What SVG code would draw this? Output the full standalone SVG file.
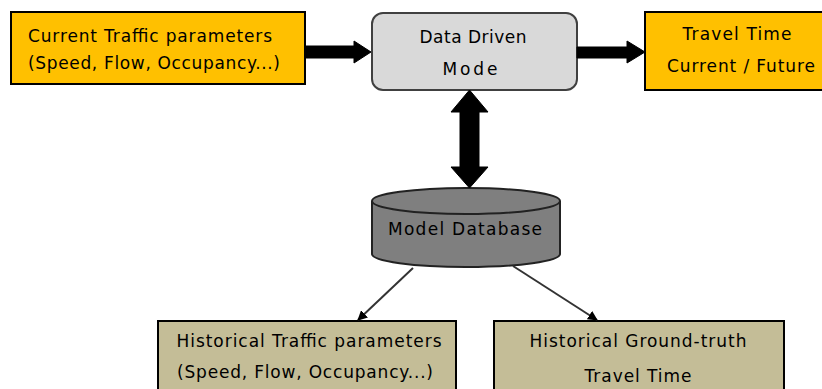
<svg xmlns="http://www.w3.org/2000/svg" width="822" height="389" viewBox="0 0 822 389">
<defs>
<style>
text{font-family:"DejaVu Sans","Liberation Sans",sans-serif;font-size:17px;fill:#000;text-anchor:middle}
.orange{fill:#FFC000;stroke:#000;stroke-width:2}
.tan{fill:#C4BD97;stroke:#000;stroke-width:2}
.thick{fill:#000;stroke:#000;stroke-width:1}
.thin{stroke:#333;stroke-width:2;fill:none;marker-end:url(#ah)}
</style>
<marker id="ah" viewBox="0 0 10 10" refX="9" refY="5" markerWidth="5" markerHeight="5" orient="auto" markerUnits="strokeWidth">
<path d="M0,0 L10,5 L0,10 z" fill="#000"/>
</marker>
</defs>
<rect width="822" height="389" fill="#fff"/>
<g id="current">
<rect class="orange" x="11" y="12" width="294" height="72"/>
<text x="150" y="42" textLength="244">Current Traffic parameters</text>
<text x="154" y="69" textLength="252">(Speed, Flow, Occupancy...)</text>
</g>
<g id="model">
<rect x="372" y="13" width="205" height="77" rx="11" fill="#D9D9D9" stroke="#404040" stroke-width="2"/>
<text x="473" y="43" textLength="107">Data Driven</text>
<text x="470" y="75" textLength="55">Mode</text>
</g>
<g id="travel">
<rect class="orange" x="645" y="12" width="190" height="78"/>
<text x="737" y="40" textLength="109">Travel Time</text>
<text x="741" y="72" textLength="148">Current / Future</text>
</g>
<g id="database">
<path d="M372,201 L372,254 A94,13 0 0 0 560,254 L560,201" fill="#7F7F7F" stroke="#222" stroke-width="2"/>
<ellipse cx="466" cy="201" rx="94" ry="13" fill="#7F7F7F" stroke="#222" stroke-width="2"/>
<text x="465" y="235" textLength="154">Model Database</text>
</g>
<g id="hist-traffic">
<rect class="tan" x="158" y="321" width="298" height="80"/>
<text x="309" y="347" textLength="265">Historical Traffic parameters</text>
<text x="305" y="378" textLength="256">(Speed, Flow, Occupancy...)</text>
</g>
<g id="hist-truth">
<rect class="tan" x="494" y="321" width="290" height="80"/>
<text x="638" y="347" textLength="217">Historical Ground-truth</text>
<text x="638" y="382" textLength="107">Travel Time</text>
</g>
<g id="connectors">
<polygon class="thick" points="305,46 354,46 354,41 371,52 354,63 354,58 305,58"/>
<polygon class="thick" points="577,47 627,47 627,41 645,52 627,63 627,58 577,58"/>
<polygon class="thick" points="469.5,90 488,112 479,112 479,167 488,167 469.5,188 451,167 460,167 460,112 451,112"/>
<line class="thin" x1="413" y1="268" x2="358" y2="320"/>
<line class="thin" x1="513" y1="266" x2="597" y2="320"/>
</g>
</svg>
